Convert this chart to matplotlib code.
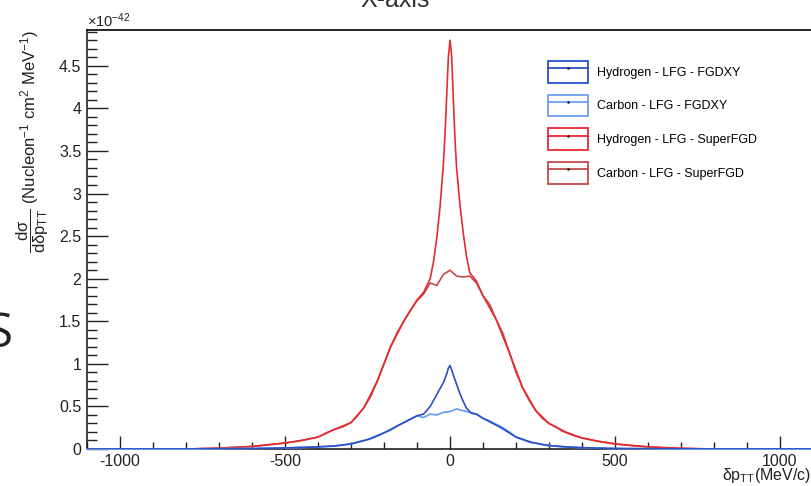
import matplotlib
matplotlib.use("Agg")
import matplotlib.pyplot as plt
from matplotlib.patches import Patch
from matplotlib.lines import Line2D
from matplotlib.ticker import MultipleLocator, FuncFormatter

plt.rcParams['font.family'] = ['Liberation Sans', 'DejaVu Sans']
plt.rcParams['mathtext.fontset'] = 'custom'
plt.rcParams['mathtext.rm'] = 'Liberation Sans'
plt.rcParams['mathtext.it'] = 'Liberation Sans'
plt.rcParams['mathtext.bf'] = 'Liberation Sans:bold'
plt.rcParams['axes.unicode_minus'] = False

# dsigma/d(dpTT) in units of 1e-42
x_c_sfgd = [-1100, -800, -750, -700, -650, -600, -550, -500, -450, -400,
            -375, -350, -325, -300, -280, -260, -240, -220, -200, -180,
            -160, -140, -120, -100, -80, -60, -40, -20, 0, 20,
            40, 60, 80, 100, 120, 140, 160, 180, 200, 220,
            240, 260, 280, 300, 320, 340, 360, 380, 400, 450,
            500, 550, 600, 650, 700, 750, 800, 1100]
y_c_sfgd = [0, 0, 0.005, 0.01, 0.02, 0.03, 0.05, 0.07, 0.1, 0.14,
            0.19, 0.23, 0.26, 0.31, 0.39, 0.49, 0.62, 0.8, 1.0, 1.2,
            1.37, 1.5, 1.63, 1.74, 1.82, 1.95, 1.92, 2.05, 2.1, 2.03,
            2.02, 2.03, 1.95, 1.8, 1.7, 1.52, 1.36, 1.13, 0.9, 0.72,
            0.57, 0.45, 0.36, 0.3, 0.26, 0.21, 0.18, 0.15, 0.13, 0.09,
            0.06, 0.04, 0.025, 0.015, 0.008, 0.003, 0, 0]

x_h_sfgd = [-1100, -800, -700, -600, -500, -450, -400, -350, -300, -260,
            -220, -180, -140, -100, -80, -60, -50, -40, -30, -20,
            -15, -10, -5, 0, 5, 10, 15, 20, 30, 40,
            50, 60, 80, 100, 140, 180, 220, 260, 300, 350,
            400, 450, 500, 600, 700, 800, 1100]
y_h_sfgd = [0, 0, 0.01, 0.03, 0.07, 0.1, 0.14, 0.23, 0.31, 0.49,
            0.8, 1.2, 1.5, 1.75, 1.84, 2.0, 2.2, 2.48, 2.85, 3.35,
            3.7, 4.15, 4.6, 4.8, 4.62, 4.12, 3.65, 3.3, 2.87, 2.54,
            2.26, 2.07, 1.97, 1.8, 1.52, 1.13, 0.72, 0.45, 0.3, 0.2,
            0.13, 0.09, 0.06, 0.025, 0.008, 0, 0]

x_h_fgdxy = [-1100, -800, -600, -500, -400, -350, -300, -250, -200, -150,
             -100, -80, -60, -40, -20, -10, -5, 0, 5, 10,
             20, 30, 40, 50, 65, 80, 100, 150, 200, 250,
             300, 350, 400, 500, 600, 800, 1100]
y_h_fgdxy = [0, 0, 0.005, 0.012, 0.025, 0.035, 0.06, 0.11, 0.19, 0.29,
             0.39, 0.41, 0.5, 0.64, 0.78, 0.88, 0.95, 0.98, 0.93, 0.87,
             0.76, 0.65, 0.56, 0.48, 0.42, 0.41, 0.36, 0.26, 0.14, 0.075,
             0.04, 0.025, 0.015, 0.006, 0.003, 0, 0]

x_c_fgdxy = [-1100, -800, -700, -600, -500, -450, -400, -350, -300, -280,
             -260, -240, -220, -200, -180, -160, -140, -120, -100, -80,
             -60, -40, -20, 0, 20, 40, 60, 80, 100, 120,
             140, 160, 180, 200, 220, 240, 260, 280, 300, 350,
             400, 450, 500, 600, 700, 1100]
y_c_fgdxy = [0, 0, 0.003, 0.006, 0.012, 0.018, 0.025, 0.035, 0.06, 0.08,
             0.1, 0.12, 0.15, 0.19, 0.22, 0.27, 0.31, 0.35, 0.39, 0.37,
             0.41, 0.40, 0.43, 0.44, 0.47, 0.45, 0.43, 0.41, 0.36, 0.33,
             0.29, 0.25, 0.2, 0.14, 0.11, 0.08, 0.07, 0.05, 0.04, 0.025,
             0.015, 0.01, 0.006, 0.003, 0, 0]

labels = ['Hydrogen - LFG - FGDXY', 'Carbon - LFG - FGDXY',
          'Hydrogen - LFG - SuperFGD', 'Carbon - LFG - SuperFGD']
colors = ['#2a4fc6', '#6fa0f2', '#e52b2f', '#c44a4c']

fig = plt.figure(figsize=(8.12, 4.86), dpi=100)
ax = fig.add_axes([87/812, 1 - 449/486, 726/812, 419/486])

ax.plot(x_c_sfgd, y_c_sfgd, color=colors[3], lw=1.2, zorder=2)
ax.plot(x_h_sfgd, y_h_sfgd, color=colors[2], lw=1.2, zorder=2.1)
ax.plot(x_c_fgdxy, y_c_fgdxy, color=colors[1], lw=1.3, zorder=3, clip_on=False)
ax.plot(x_h_fgdxy, y_h_fgdxy, color=colors[0], lw=1.2, zorder=3.1)

ax.set_xlim(-1100, 1100)
ax.set_ylim(0, 4.92)

for s in ['top', 'right']:
    ax.spines[s].set_linewidth(1.2)
for s in ['left', 'bottom']:
    ax.spines[s].set_linewidth(1.2)
    ax.spines[s].set_color('#222222')

ax.xaxis.set_major_locator(MultipleLocator(500))
ax.xaxis.set_minor_locator(MultipleLocator(100))
ax.yaxis.set_major_locator(MultipleLocator(0.5))
ax.yaxis.set_minor_locator(MultipleLocator(0.1))
ax.yaxis.set_major_formatter(FuncFormatter(lambda v, p: '%g' % v))

ax.tick_params(axis='both', which='both', direction='in', top=False, right=False,
               labelsize=11.5, colors='#222222', width=1.0)
ax.tick_params(axis='y', which='major', length=15, pad=4)
ax.tick_params(axis='y', which='minor', length=7.5)
ax.tick_params(axis='x', which='major', length=9.5, pad=3.5)
ax.tick_params(axis='x', which='minor', length=5)

# axis decorations in ROOT style
fig.text(87/812, 1 - 27/486, r'$\times$10$^{-42}$', fontsize=10.5, color='#222222',
         ha='left', va='baseline')
fig.text(33/812, 1 - 30/486,
         r'$\dfrac{\mathrm{d}\sigma}{\mathrm{d}\delta\mathrm{p}_{\mathrm{TT}}}$ (Nucleon$^{-1}$ cm$^{2}$ MeV$^{-1}$)',
         rotation=90, ha='center', va='top', fontsize=12, color='#222222')
fig.text(811/812, 1 - 480/486, r'$\delta$p$_{\mathrm{TT}}$(MeV/c)', ha='right', va='baseline',
         fontsize=11.5, color='#222222')
fig.text(395/812, 1 - 7/486, 'X-axis', ha='center', va='baseline', fontsize=18, color='#333333')
fig.text(13/812, 1 - 347/486, 'S', ha='right', va='baseline', fontsize=34, color='#222222',
         family='Open Sans')

handles = []
for c in colors:
    handles.append((Patch(facecolor='white', edgecolor=c, lw=1.3),
                    Line2D([], [], color=c, lw=1.3, marker='.', markersize=1.5,
                           markerfacecolor='k', markeredgecolor='k')))
fig.legend(handles, labels, loc='upper left', bbox_to_anchor=(548/812, 1 - 61/486),
           frameon=False, fontsize=9, handlelength=3.2, handleheight=2.3,
           labelspacing=0.95, handletextpad=0.7, borderpad=0, borderaxespad=0)

fig.savefig('out.png', dpi=100)
